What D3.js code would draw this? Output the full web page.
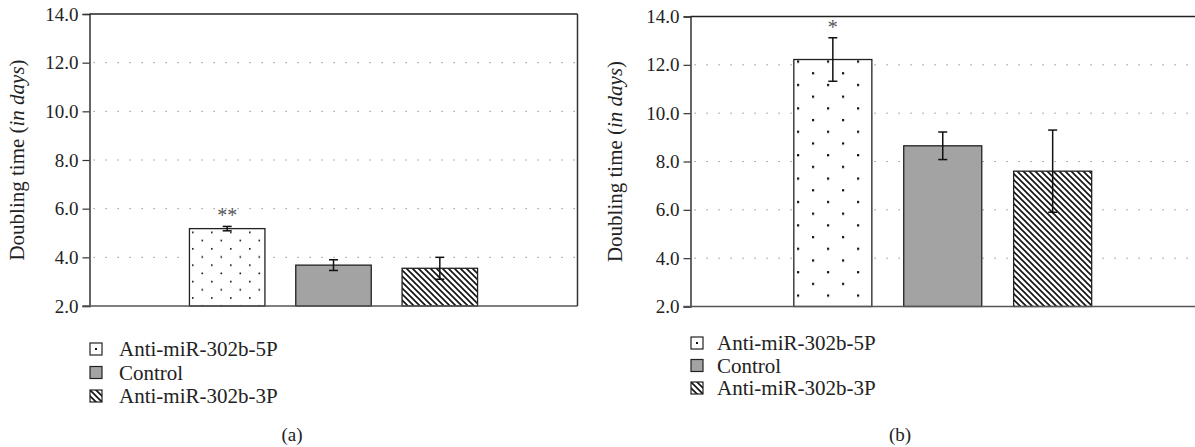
<!DOCTYPE html>
<html>
<head>
<meta charset="utf-8">
<script src="https://cdn.jsdelivr.net/npm/d3@7"></script>
<style>
  body { margin: 0; background: #fff; }
  text { font-family: "Liberation Serif", "DejaVu Serif", serif; fill: #222; }
</style>
</head>
<body>
<div id="chart"></div>
<script>
// data
const groups = ["Anti-miR-302b-5P", "Control", "Anti-miR-302b-3P"];
const meansA = [5.18, 3.68, 3.55];
const errA = [0.09, 0.22, 0.45];
const starsA = ["**", "", ""];
const meansB = [12.22, 8.65, 7.6];
const errB = [0.9, 0.57, 1.7];
const starsB = ["*", "", ""];
const yTicks = [2, 4, 6, 8, 10, 12, 14];

const W = 1195, H = 447;
const svg = d3.select("#chart").append("svg")
    .attr("width", W).attr("height", H);

const defs = svg.append("defs");

// dotted fill patterns (different density in each panel)
function dotPattern(id, w, h, r) {
  const p = defs.append("pattern").attr("id", id)
      .attr("patternUnits", "userSpaceOnUse")
      .attr("width", w).attr("height", h);
  p.append("rect").attr("width", w).attr("height", h).attr("fill", "#fff");
  p.append("rect").attr("x", 2).attr("y", 2).attr("width", r).attr("height", r).attr("fill", "#111");
  p.append("rect").attr("x", 2 + w / 2).attr("y", 2 + h / 2).attr("width", r).attr("height", r).attr("fill", "#111");
}
dotPattern("dotsA", 19, 16.4, 1.6);
dotPattern("dotsB", 30, 23.4, 2.2);

// diagonal hatch
const hatch = defs.append("pattern").attr("id", "hatch")
    .attr("patternUnits", "userSpaceOnUse")
    .attr("width", 6).attr("height", 6);
hatch.append("rect").attr("width", 6).attr("height", 6).attr("fill", "#fff");
hatch.append("path")
    .attr("d", "M-1,-1 L7,7 M-1,5 L1,7 M5,-1 L7,1")
    .attr("stroke", "#111").attr("stroke-width", 1.6);

// legend swatch with a single centre dot
const ld = defs.append("pattern").attr("id", "legDot")
    .attr("patternUnits", "objectBoundingBox").attr("width", 1).attr("height", 1);
ld.append("rect").attr("width", 12).attr("height", 12).attr("fill", "#fff");
ld.append("rect").attr("x", 5).attr("y", 5).attr("width", 2).attr("height", 2).attr("fill", "#111");

const fills = ["url(#dots)", "#a3a3a3", "url(#hatch)"];

function drawPanel(cfg) {
  const y = d3.scaleLinear().domain([2, 14]).range([cfg.bottom, cfg.top]);
  const x = d3.scaleBand().domain(groups)
      .range([cfg.left, cfg.right]).paddingInner(0.29).paddingOuter(0.94);

  const g = svg.append("g");

  // dotted gridlines
  g.selectAll(".grid").data(yTicks.filter(d => d > 2 && d < 14)).enter()
    .append("line")
    .attr("x1", cfg.left + 4).attr("x2", cfg.right)
    .attr("y1", d => y(d)).attr("y2", d => y(d))
    .attr("stroke", "#777").attr("stroke-width", 1)
    .attr("stroke-dasharray", "1.2,10.8");

  // bars
  const data = groups.map((k, i) => ({k: k, v: cfg.means[i], e: cfg.err[i], s: cfg.stars[i], i: i}));
  g.selectAll(".bar").data(data).enter().append("rect")
    .attr("x", d => x(d.k)).attr("width", x.bandwidth())
    .attr("y", d => y(d.v)).attr("height", d => y(2) - y(d.v))
    .attr("fill", d => d.i === 0 ? cfg.dots : fills[d.i])
    .attr("stroke", "#222").attr("stroke-width", 1.3);

  // error bars
  const cap = 4.5;
  const eb = g.selectAll(".err").data(data).enter().append("g")
    .attr("stroke", "#111").attr("stroke-width", 1.5);
  eb.append("line")
    .attr("x1", d => x(d.k) + x.bandwidth() / 2).attr("x2", d => x(d.k) + x.bandwidth() / 2)
    .attr("y1", d => y(d.v + d.e)).attr("y2", d => y(d.v - d.e));
  eb.append("line")
    .attr("x1", d => x(d.k) + x.bandwidth() / 2 - cap).attr("x2", d => x(d.k) + x.bandwidth() / 2 + cap)
    .attr("y1", d => y(d.v + d.e)).attr("y2", d => y(d.v + d.e));
  eb.append("line")
    .attr("x1", d => x(d.k) + x.bandwidth() / 2 - cap).attr("x2", d => x(d.k) + x.bandwidth() / 2 + cap)
    .attr("y1", d => y(d.v - d.e)).attr("y2", d => y(d.v - d.e));

  // significance stars
  g.selectAll(".star").data(data.filter(d => d.s)).enter().append("text")
    .attr("x", d => x(d.k) + x.bandwidth() / 2)
    .attr("y", d => y(d.v + d.e) - 4)
    .attr("text-anchor", "middle")
    .style("font-size", "20px").style("fill", "#555")
    .text(d => d.s);

  // y axis
  const yAxis = g.append("g")
    .attr("transform", "translate(" + cfg.left + ",0)")
    .call(d3.axisLeft(y).tickValues(yTicks).tickFormat(d3.format(".1f")).tickSize(7).tickPadding(4));
  yAxis.select(".domain").attr("stroke", "#333").attr("stroke-width", 1.5);
  yAxis.selectAll(".tick line").attr("stroke", "#333").attr("stroke-width", 1.2);
  yAxis.selectAll(".tick text").style("font-size", "19px")
    .style("font-family", "'Liberation Serif', serif").attr("fill", "#222");

  // frame: top, bottom, (right)
  g.append("line").attr("x1", cfg.left).attr("x2", cfg.right)
    .attr("y1", cfg.top).attr("y2", cfg.top)
    .attr("stroke", "#222").attr("stroke-width", 1.5);
  g.append("line").attr("x1", cfg.left - 7).attr("x2", cfg.right)
    .attr("y1", cfg.bottom).attr("y2", cfg.bottom)
    .attr("stroke", "#555").attr("stroke-width", 1.5);
  if (cfg.rightBorder) {
    g.append("line").attr("x1", cfg.right).attr("x2", cfg.right)
      .attr("y1", cfg.top).attr("y2", cfg.bottom)
      .attr("stroke", "#333").attr("stroke-width", 1.5);
  }

  // y title
  const t = g.append("text")
    .attr("transform", "translate(" + cfg.titleX + "," + ((cfg.top + cfg.bottom) / 2) + ") rotate(-90)")
    .attr("text-anchor", "middle")
    .style("font-size", "21px");
  t.append("tspan").text("Doubling time (");
  t.append("tspan").style("font-style", "italic").text("in days");
  t.append("tspan").text(")");

  // legend
  const legFills = ["url(#legDot)", fills[1], fills[2]];
  const leg = g.selectAll(".leg").data(groups).enter().append("g")
    .attr("transform", (d, i) => "translate(" + cfg.legX + "," + (cfg.legY + i * cfg.legStep) + ")");
  leg.append("rect").attr("x", 0).attr("y", -6).attr("width", 12).attr("height", 12)
    .attr("fill", (d, i) => legFills[i]).attr("stroke", "#222").attr("stroke-width", 1.2);
  leg.append("text").attr("x", cfg.legGap).attr("y", 0).attr("dy", "0.35em")
    .style("font-size", "21px").text(d => d);

  // panel label
  g.append("text").attr("x", cfg.labelX).attr("y", 441)
    .attr("text-anchor", "middle").style("font-size", "19px").text(cfg.label);
}

drawPanel({left: 89.5, right: 577.5, top: 14, bottom: 306, means: meansA, err: errA, stars: starsA,
  dots: "url(#dotsA)", rightBorder: true, titleX: 24,
  legX: 90, legY: 349, legStep: 23.5, legGap: 29, labelX: 292, label: "(a)"});
drawPanel({left: 690.5, right: 1195, top: 16.5, bottom: 306.5, means: meansB, err: errB, stars: starsB,
  dots: "url(#dotsB)", rightBorder: false, titleX: 622,
  legX: 691, legY: 343, legStep: 22.5, legGap: 26, labelX: 900, label: "(b)"});
</script>
</body>
</html>
